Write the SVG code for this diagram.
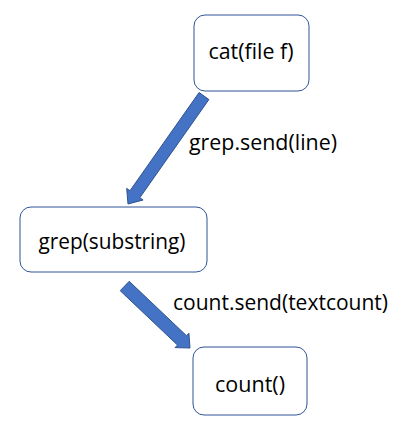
<svg xmlns="http://www.w3.org/2000/svg" width="399" height="421" viewBox="0 0 399 421">
  <style>
    .box { fill: #ffffff; stroke: #2f5597; stroke-width: 1; }
    .label { font-family: "Open Sans", "Liberation Sans", sans-serif; font-size: 21px; fill: #000000; }
    .node-text { text-anchor: middle; }
    .arrow { fill: #4472c4; stroke: #2f528f; stroke-width: 1; stroke-linejoin: miter; }
  </style>
  <rect width="399" height="421" fill="#ffffff"/>

  <!-- block arrows between the stages of the pipeline -->
  <g id="connectors">
    <polygon class="arrow" points="208.9,99.5 139.8,197.7 143.1,200 128,204 126.7,188.4 130,190.7 199.1,92.5"/>
    <text class="label" x="189" y="150" textLength="148" lengthAdjust="spacingAndGlyphs">grep.send(line)</text>
    <polygon class="arrow" points="129.2,281.3 186.5,335.7 188.9,333.2 190,348 175.1,347.6 177.5,345.1 120.2,290.7"/>
    <text class="label" x="173" y="310" textLength="215" lengthAdjust="spacingAndGlyphs">count.send(textcount)</text>
  </g>

  <g id="cat">
    <rect class="box" x="194" y="15" width="115" height="76" rx="11"/>
    <text class="label node-text" x="251" y="59" textLength="85" lengthAdjust="spacingAndGlyphs">cat(file f)</text>
  </g>

  <g id="grep">
    <rect class="box" x="20" y="207" width="187" height="65" rx="11"/>
    <text class="label node-text" x="112" y="249" textLength="147" lengthAdjust="spacingAndGlyphs">grep(substring)</text>
  </g>

  <g id="count">
    <rect class="box" x="193" y="347" width="114" height="68" rx="11"/>
    <text class="label node-text" x="250" y="392" textLength="70" lengthAdjust="spacingAndGlyphs">count()</text>
  </g>
</svg>
